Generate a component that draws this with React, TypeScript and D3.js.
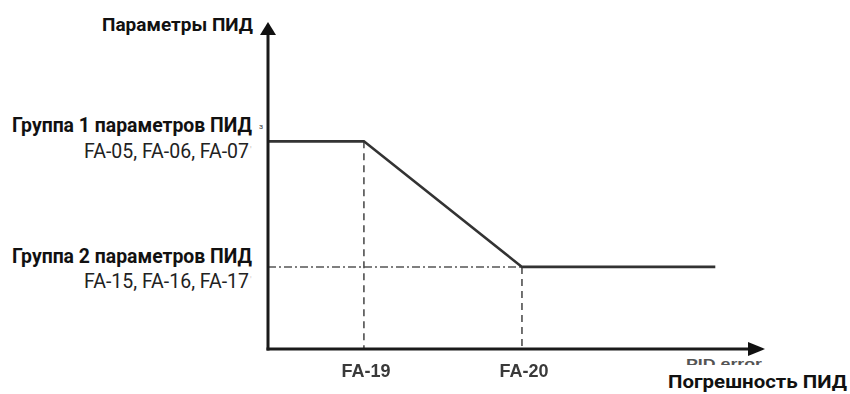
import React from "react";
import * as d3 from "d3";

const W = 850;
const H = 394;

// Conceptual chart data (x: PID error units, y: PID parameter level, both 0..100)
const curveX = [0, 19.3, 51.1, 90];
const curveY = [63.5, 63.5, 25.1, 25.1];
const markerX = [19.3, 51.1];
const markerLabels = ["FA-19", "FA-20"];
const levelY = [63.5, 25.1];
const groupTitles = ["Группа 1 параметров ПИД", "Группа 2 параметров ПИД"];
const groupCodes = ["FA-05, FA-06, FA-07", "FA-15, FA-16, FA-17"];
const yTitle = "Параметры ПИД";
const xTitle = "Погрешность ПИД";
const xTitleEn = "PID error";

// layout offsets (pixels) for group label rows relative to their level
const titleOffset = [-9, -4];
const codeOffset = [16.5, 21];

const x = d3.scaleLinear().domain([0, 100]).range([268, 765]);
const y = d3.scaleLinear().domain([0, 100]).range([349, 22]);

export default function App() {
  const line = d3
    .line<number>()
    .x((_, i) => x(curveX[i]))
    .y((d) => y(d));
  const curvePath = line(curveY) || "";

  const x0 = x(0);
  const y0 = y(0);
  const xEnd = x(100);
  const yEnd = y(100);

  const boldFont = "Roboto, 'Liberation Sans', sans-serif";

  return (
    <svg
      width={W}
      height={H}
      viewBox={`0 0 ${W} ${H}`}
      style={{ position: "absolute", left: 0, top: 0, background: "#fff" }}
    >
      <defs>
        <clipPath id="pidClip">
          <rect x={0} y={0} width={W} height={365} />
        </clipPath>
      </defs>
      <rect x={0} y={0} width={W} height={H} fill="#fff" />

      {/* dash-dot level line for group 2 */}
      <line
        x1={x0}
        x2={x(markerX[1])}
        y1={y(levelY[1])}
        y2={y(levelY[1])}
        stroke="#555"
        strokeWidth={1.5}
        strokeDasharray="8 3 2 3"
      />
      {/* dashed vertical markers */}
      {markerX.map((mx, i) => (
        <line
          key={i}
          x1={x(mx)}
          x2={x(mx)}
          y1={y(levelY[i])}
          y2={y0}
          stroke="#444"
          strokeWidth={1.5}
          strokeDasharray="7 5"
        />
      ))}

      {/* curve */}
      <path d={curvePath} fill="none" stroke="#333" strokeWidth={2.6} />

      {/* axes */}
      <line x1={x0} x2={x0} y1={y0 + 1.5} y2={yEnd + 10} stroke="#1a1a1a" strokeWidth={3} />
      <line x1={x0 - 1.5} x2={xEnd - 12} y1={y0} y2={y0} stroke="#1a1a1a" strokeWidth={3} />
      <path
        d={`M${x0},${yEnd} L${x0 - 8},${yEnd + 13} L${x0 + 8},${yEnd + 13} Z`}
        fill="#111"
      />
      <path
        d={`M${xEnd},${y0} L${xEnd - 17},${y0 - 7} L${xEnd - 17},${y0 + 7} Z`}
        fill="#111"
      />

      {/* y title */}
      <text
        x={253}
        y={31}
        textAnchor="end"
        fontFamily={boldFont}
        fontWeight="bold"
        fontSize={19}
        fill="#111"
        textLength={151}
        lengthAdjust="spacingAndGlyphs"
      >
        {yTitle}
      </text>

      {/* group labels */}
      {groupTitles.map((t, i) => (
        <g key={i}>
          <text
            x={12}
            y={y(levelY[i]) + titleOffset[i]}
            fontFamily={boldFont}
            fontWeight="bold"
            fontSize={20}
            fill="#111"
            textLength={240}
            lengthAdjust="spacingAndGlyphs"
          >
            {t}
          </text>
          <text
            x={249}
            y={y(levelY[i]) + codeOffset[i]}
            textAnchor="end"
            fontFamily="Roboto, sans-serif"
            fontSize={19.5}
            fill="#222"
          >
            {groupCodes[i]}
          </text>
        </g>
      ))}
      {/* small scan artifacts */}
      <text x={259} y={y(levelY[0]) - 12} fontFamily={boldFont} fontSize={8} fill="#444">
        з
      </text>
      <text x={250} y={y(levelY[0]) + 12} fontFamily={boldFont} fontSize={9} fill="#bbb">
        '
      </text>
      <text x={250} y={y(levelY[1]) + 16} fontFamily={boldFont} fontSize={9} fill="#ccc">
        '
      </text>

      {/* marker labels */}
      {markerX.map((mx, i) => (
        <text
          key={i}
          x={x(mx) + 2}
          y={377}
          textAnchor="middle"
          fontFamily="'Liberation Sans', Arial, sans-serif"
          fontWeight="bold"
          fontSize={18}
          fill="#3a3a3a"
          style={{ filter: "blur(0.4px)" }}
        >
          {markerLabels[i]}
        </text>
      ))}

      {/* english label, partly hidden as in the scan */}
      <g clipPath="url(#pidClip)">
        <text
          x={686}
          y={368}
          fontFamily="'Liberation Sans', Arial, sans-serif"
          fontWeight="bold"
          fontSize={13}
          fill="#555"
          textLength={76}
          lengthAdjust="spacingAndGlyphs"
        >
          {xTitleEn}
        </text>
      </g>

      {/* x title */}
      <text
        x={847}
        y={388}
        textAnchor="end"
        fontFamily={boldFont}
        fontWeight="bold"
        fontSize={19}
        fill="#111"
        textLength={179}
        lengthAdjust="spacingAndGlyphs"
      >
        {xTitle}
      </text>
    </svg>
  );
}
